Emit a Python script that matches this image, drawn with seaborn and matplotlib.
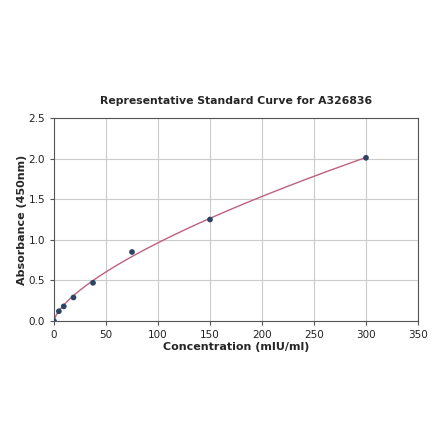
import numpy as np
import pandas as pd
import matplotlib
matplotlib.use("Agg")
import matplotlib.pyplot as plt
import seaborn as sns

conc = [0, 4.69, 9.375, 18.75, 37.5, 75, 150, 300]
absorb = [0.0, 0.12, 0.18, 0.29, 0.47, 0.85, 1.25, 2.01]
title = "Representative Standard Curve for A326836"
xlabel = "Concentration (mIU/ml)"
ylabel = "Absorbance (450nm)"
xticks = [0, 50, 100, 150, 200, 250, 300, 350]
yticks = [0.0, 0.5, 1.0, 1.5, 2.0, 2.5]

sns.set_style("white")
plt.rcParams['font.family'] = ['DejaVu Sans']

fig = plt.figure(figsize=(4.4, 4.41), dpi=100)
ax = fig.add_axes([54/440, 1-321/441, (418-54)/440, (321-118)/441])

# power fit on non-zero points (weighted toward large values)
c = np.array(conc[1:]); a = np.array(absorb[1:])
b, loga = np.polyfit(np.log(c), np.log(a), 1, w=a)
xs = np.linspace(0, max(conc), 300)
ys = np.exp(loga) * xs ** b
curve = pd.DataFrame({"x": xs, "y": ys})
pts = pd.DataFrame({"x": conc, "y": absorb})

sns.lineplot(data=curve, x="x", y="y", ax=ax, color="#c06080", linewidth=1.0, zorder=2)
sns.scatterplot(data=pts, x="x", y="y", ax=ax, color="#2b4464", s=17, edgecolor="none", zorder=3)

ax.set_xlim(0, 350)
ax.set_ylim(0, 2.5)
ax.set_xticks(xticks)
ax.set_yticks(yticks)
ax.set_xticklabels([str(t) for t in xticks])
ax.set_yticklabels([f"{t:.1f}" for t in yticks])
ax.grid(True, color="#cccccc", linewidth=0.8)
ax.set_axisbelow(True)
for s in ax.spines.values():
    s.set_color("#555555")
    s.set_linewidth(0.8)
ax.tick_params(axis="both", labelsize=7.5, length=3, color="#555555", labelcolor="#222222", left=True, bottom=True)
ax.set_xlabel(xlabel, fontsize=8, fontweight="bold", labelpad=1.5)
ax.set_ylabel(ylabel, fontsize=8, fontweight="bold", labelpad=1)
ax.set_title(title, fontsize=7.8, fontweight="bold", pad=10)

fig.savefig("out.png", dpi=100)
